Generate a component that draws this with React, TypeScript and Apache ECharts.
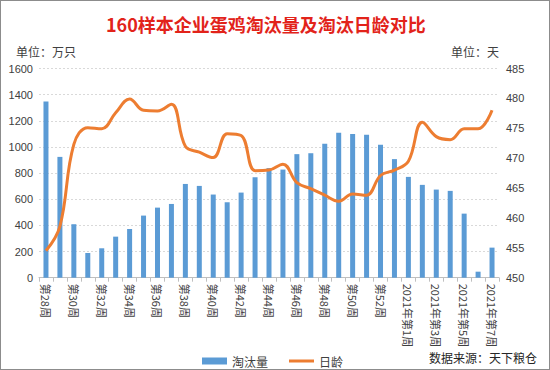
import React, { useEffect, useRef } from "react";
import * as echarts from "echarts";

const weeks = [
  "第28周", "第29周", "第30周", "第31周", "第32周", "第33周", "第34周", "第35周",
  "第36周", "第37周", "第38周", "第39周", "第40周", "第41周", "第42周", "第43周",
  "第44周", "第45周", "第46周", "第47周", "第48周", "第49周", "第50周", "第51周",
  "第52周", "第53周", "2021年第1周", "2021年第2周", "2021年第3周", "2021年第4周",
  "2021年第5周", "2021年第6周", "2021年第7周",
];

const cullVolume = [
  1348, 924, 409, 189, 225, 314, 373, 475, 536, 564, 717, 702, 636, 577, 651, 769,
  838, 827, 945, 952, 1024, 1108, 1100, 1093, 1016, 907, 771, 710, 674, 664, 490, 46, 230,
];

const cullAge = [
  454.5, 458.6, 472.3, 475.1, 474.9, 477.6, 479.9, 478.0, 477.9, 479.0, 472.0, 471.0,
  470.1, 474.1, 473.8, 467.9, 468.0, 469.0, 465.9, 464.9, 463.8, 462.8, 464.0, 463.8,
  467.1, 468.0, 469.5, 476.0, 473.6, 473.1, 474.9, 474.9, 478.0,
];

const titleText = "160样本企业蛋鸡淘汰量及淘汰日龄对比";
const leftUnit = "单位：万只";
const rightUnit = "单位：天";
const sourceText = "数据来源：天下粮仓";

const FONT = "'Liberation Sans', 'Noto Sans CJK SC', sans-serif";
const CJK = "'Noto Sans CJK SC', sans-serif";

export default function App() {
  const ref = useRef<HTMLDivElement>(null);

  useEffect(() => {
    document.body.style.margin = "0";
    if (!ref.current) return;
    const chart = echarts.init(ref.current, undefined, { renderer: "svg" });
    chart.setOption({
      animation: false,
      backgroundColor: "#ffffff",
      title: {
        text: titleText,
        left: 100,
        top: 9,
        textStyle: {
          color: "#E2231A",
          fontSize: 18,
          fontWeight: "bold",
          fontFamily: CJK,
        },
      },
      graphic: [
        {
          type: "text",
          left: 15,
          top: 44,
          style: { text: leftUnit, fill: "#404040", fontSize: 12, fontFamily: CJK },
        },
        {
          type: "text",
          right: 50,
          top: 44,
          style: { text: rightUnit, fill: "#404040", fontSize: 12, fontFamily: CJK },
        },
        {
          type: "text",
          right: 12,
          top: 350,
          style: { text: sourceText, fill: "#262626", fontSize: 12, fontFamily: CJK },
        },
      ],
      legend: {
        left: 196,
        top: 349,
        itemGap: 21,
        itemWidth: 25,
        itemHeight: 7,
        textStyle: { fontSize: 12, color: "#404040", fontFamily: CJK },
        data: [
          { name: "淘汰量", icon: "rect" },
          { name: "日龄", icon: "path://M0 0 H25 V3 H0 Z" },
        ],
      },
      grid: {
        left: 38,
        right: 50,
        top: 67.5,
        height: 209.2,
        containLabel: false,
      },
      xAxis: {
        type: "category",
        data: weeks,
        boundaryGap: true,
        axisLine: { show: true, lineStyle: { color: "#bfbfbf" } },
        axisTick: { show: true, alignWithLabel: false, interval: 0, length: 4, lineStyle: { color: "#bfbfbf" } },
        axisLabel: {
          interval: 1,
          rotate: -90,
          fontSize: 11,
          color: "#404040",
          fontFamily: CJK,
          margin: 6,
        },
      },
      yAxis: [
        {
          type: "value",
          min: 0,
          max: 1600,
          interval: 200,
          axisLine: { show: false },
          axisTick: { show: false },
          axisLabel: {
            fontSize: 11,
            color: "#404040",
            fontFamily: FONT,
            margin: 6,
            formatter: (v: number) => String(v),
          },
          splitLine: { show: true, lineStyle: { color: "#d9d9d9", type: [2, 2], width: 1 } },
        },
        {
          type: "value",
          min: 450,
          max: 485,
          interval: 5,
          axisLine: { show: false },
          axisTick: { show: false },
          axisLabel: {
            fontSize: 11,
            color: "#404040",
            fontFamily: FONT,
            margin: 7,
            formatter: (v: number) => String(v),
          },
          splitLine: { show: false },
        },
      ],
      series: [
        {
          name: "淘汰量",
          type: "bar",
          data: cullVolume,
          yAxisIndex: 0,
          barWidth: 5,
          itemStyle: { color: "#5B9BD5" },
        },
        {
          name: "日龄",
          type: "line",
          data: cullAge,
          yAxisIndex: 1,
          smooth: 0.4,
          symbol: "none",
          lineStyle: { color: "#ED7D31", width: 3 },
          itemStyle: { color: "#ED7D31" },
        },
      ],
    });
    return () => chart.dispose();
  }, []);

  return (
    <div
      style={{
        width: 550,
        height: 370,
        boxSizing: "border-box",
        border: "1px solid #8c8c8c",
        background: "#fff",
        position: "relative",
      }}
    >
      <div ref={ref} style={{ width: 548, height: 368 }} />
    </div>
  );
}
